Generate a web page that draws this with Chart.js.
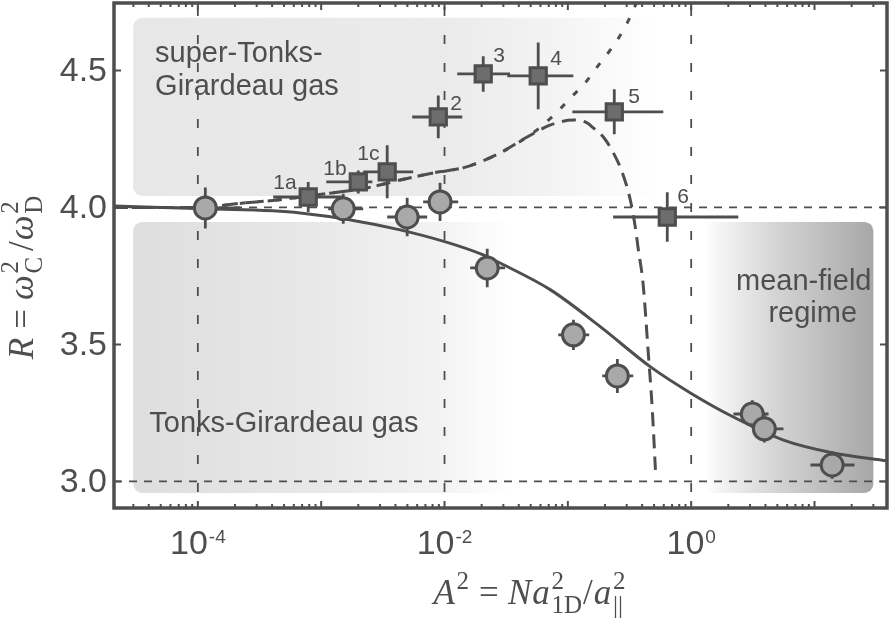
<!DOCTYPE html>
<html>
<head>
<meta charset="utf-8">
<script src="https://cdn.jsdelivr.net/npm/chart.js@4.4.1/dist/chart.umd.min.js"></script>
<style>
  html, body { margin: 0; padding: 0; background: #fff; overflow: hidden; }
  #wrap { width: 890px; height: 618px; }
</style>
</head>
<body>
<div id="wrap"><canvas id="chart"></canvas></div>
<script>
// axis ranges and ticks
const xMin = 2.09e-5, xMax = 38.7;
const yMin = 2.903, yMax = 4.746;
const yTicks = [3.0, 3.5, 4.0, 4.5];
const yTickLabels = ['3.0', '3.5', '4.0', '4.5'];
const xMajorTicks = [1e-4, 1e-2, 1];
const xTickExponents = ['-4', '-2', '0'];
const refX = [1e-4, 1e-2, 1];
const refY = [3.0, 4.0];

// super-Tonks-Girardeau measurements (squares)
const sqLabels = ['1a', '1b', '1c', '2', '3', '4', '5', '6'];
const sqX   = [7.85e-4, 2.0e-3, 3.43e-3, 8.9e-3, 0.0206, 0.0575, 0.238, 0.64];
const sqY   = [4.038, 4.093, 4.130, 4.330, 4.487, 4.480, 4.349, 3.965];
const sqXLo = [4.08e-4, 1.10e-3, 2.19e-3, 5.47e-3, 0.01268, 0.0323, 0.1087, 0.233];
const sqXHi = [1.51e-3, 2.6e-3, 5.57e-3, 0.01393, 0.0340, 0.1107, 0.594, 2.41];
const sqYErr = [0.055, 0.042, 0.097, 0.078, 0.065, 0.122, 0.082, 0.09];

// Tonks-Girardeau / mean-field measurements (circles)
const ciX   = [1.15e-4, 1.51e-3, 4.98e-3, 9.2e-3, 0.0222, 0.111, 0.252, 3.13, 3.92, 13.9];
const ciY   = [3.998, 3.995, 3.965, 4.020, 3.779, 3.535, 3.385, 3.246, 3.192, 3.060];
const ciXLo = [8.66e-5, 1.14e-3, 3.43e-3, 6.71e-3, 0.01615, 0.0836, 0.190, 2.20, 3.14, 9.27];
const ciXHi = [2.20e-4, 2.19e-3, 7.23e-3, 0.01291, 0.0310, 0.149, 0.339, 4.24, 5.60, 21.1];
const ciYErr = [0.075, 0.055, 0.07, 0.07, 0.07, 0.055, 0.062, 0.05, 0.05, 0.05];

// theory curves
const tgX = [2.09e-5, 1.15e-4, 6.76e-4, 4.37e-3, 0.0206, 0.0282, 0.0724, 0.184, 0.468, 0.986, 2.20, 5.60, 14.2, 38.9];
const tgY = [4.005, 3.995, 3.980, 3.918, 3.827, 3.797, 3.699, 3.564, 3.418, 3.323, 3.235, 3.151, 3.104, 3.075];

const stgX = [2.09e-5, 1.0e-4, 2.34e-4, 4.37e-4, 9.33e-4, 2.34e-3, 4.37e-3, 8.13e-3, 0.0151, 0.0282, 0.0468,
              0.0724, 0.111, 0.141, 0.161, 0.194, 0.234, 0.277, 0.321, 0.352, 0.373, 0.407, 0.447, 0.484, 0.513];
const stgY = [4.0, 4.0, 4.016, 4.027, 4.046, 4.071, 4.100, 4.126, 4.148, 4.199, 4.257,
              4.301, 4.319, 4.310, 4.290, 4.257, 4.199, 4.126, 4.027, 3.929, 3.845, 3.724, 3.480, 3.261, 3.042];

const varX = [2.09e-5, 1.0e-4, 2.34e-4, 4.37e-4, 9.33e-4, 2.34e-3, 4.37e-3, 8.13e-3, 0.0151, 0.0282, 0.0468,
              0.0598, 0.0822, 0.105, 0.138, 0.173, 0.221, 0.277, 0.320, 0.357];
const varY = [4.0, 4.0, 4.016, 4.027, 4.046, 4.071, 4.100, 4.126, 4.148, 4.199, 4.257,
              4.293, 4.349, 4.400, 4.454, 4.513, 4.575, 4.641, 4.695, 4.743];

// shaded regimes (data coordinates)
const regions = [
  { x0: 2.99e-5, x1: 0.512, y0: 4.042, y1: 4.692, side: 'left',
    stops: [[0, '#e7e7e7'], [0.6, '#ebebeb'], [0.8, '#f3f3f3'], [1, '#ffffff']] },
  { x0: 2.99e-5, x1: 0.034, y0: 2.958, y1: 3.947, side: 'left',
    stops: [[0, '#dedede'], [0.45, '#e7e7e7'], [0.82, '#f3f3f3'], [1, '#ffffff']] },
  { x0: 1.30, x1: 30, y0: 2.958, y1: 3.947, side: 'right',
    stops: [[0, '#ffffff'], [0.1, '#f3f3f3'], [0.4, '#d6d6d6'], [1, '#a7a7a7']] }
];
const regionTexts = [
  { text: 'super-Tonks-', x: 4.5e-5, y: 4.531, align: 'left' },
  { text: 'Girardeau gas', x: 4.5e-5, y: 4.411, align: 'left' },
  { text: 'Tonks-Girardeau gas', x: 4.04e-5, y: 3.181, align: 'left' },
  { text: 'mean-field', x: 8.18, y: 3.699, align: 'center' },
  { text: 'regime', x: 9.68, y: 3.582, align: 'center' }
];
// label offsets from each square, px
const sqLabelDX = [-35, -35, -30, 12, 10, 12, 14, 10];
const sqLabelDY = [-8, -7, -12, -7, -12, -11, -9, -14];

const ink = '#4e4e4e';
const sans = '"Liberation Sans", Arial, sans-serif';
const serif = '"Liberation Serif", "Times New Roman", serif';

const xTickValues = [];
for (let e = -5; e <= 1; e++) {
  for (let m = 1; m <= 9; m++) {
    const v = m * Math.pow(10, e);
    if (v >= xMin && v <= xMax) xTickValues.push(v);
  }
}

function pts(xs, ys) {
  return xs.map((x, i) => ({ x: x, y: ys[i] }));
}

function roundedRect(ctx, l, t, r, b, rad, side) {
  const rl = side === 'left' ? rad : 0;
  const rr = side === 'right' ? rad : 0;
  ctx.beginPath();
  ctx.moveTo(l + rl, t);
  ctx.lineTo(r - rr, t);
  if (rr) ctx.arcTo(r, t, r, t + rr, rr);
  ctx.lineTo(r, b - rr);
  if (rr) ctx.arcTo(r, b, r - rr, b, rr);
  ctx.lineTo(l + rl, b);
  if (rl) ctx.arcTo(l, b, l, b - rl, rl);
  ctx.lineTo(l, t + rl);
  if (rl) ctx.arcTo(l, t, l + rl, t, rl);
  ctx.closePath();
}

// simple math-text layout: runs of text plus stacked super/subscripts
function mathLayout(ctx, parts, size) {
  let w = 0;
  const out = [];
  for (const p of parts) {
    if (p.sup !== undefined || p.sub !== undefined) {
      ctx.font = Math.round(size * 0.7) + 'px ' + serif;
      const ws = Math.max(ctx.measureText(p.sup || '').width, ctx.measureText(p.sub || '').width);
      out.push({ p: p, x: w + 1 });
      w += ws + 2 + (p.gap || 0) * size;
    } else {
      ctx.font = (p.it ? 'italic ' : '') + size + 'px ' + serif;
      out.push({ p: p, x: w + (p.pre || 0) * size });
      w += ctx.measureText(p.t).width + ((p.pre || 0) + (p.gap || 0)) * size;
    }
  }
  return { w: w, items: out };
}

function drawMath(ctx, parts, size, cx, baseline) {
  const lay = mathLayout(ctx, parts, size);
  const x0 = cx - lay.w / 2;
  ctx.textBaseline = 'alphabetic';
  ctx.textAlign = 'left';
  for (const it of lay.items) {
    const p = it.p;
    if (p.sup !== undefined || p.sub !== undefined) {
      ctx.font = Math.round(size * 0.7) + 'px ' + serif;
      if (p.sup) ctx.fillText(p.sup, x0 + it.x, baseline - size * 0.42);
      if (p.sub) ctx.fillText(p.sub, x0 + it.x, baseline + size * 0.25);
    } else {
      ctx.font = (p.it ? 'italic ' : '') + size + 'px ' + serif;
      ctx.fillText(p.t, x0 + it.x, baseline);
    }
  }
}

function errorBars(ctx, sx, sy, xs, ys, lo, hi, dy) {
  for (let i = 0; i < xs.length; i++) {
    const px = sx.getPixelForValue(xs[i]);
    const py = sy.getPixelForValue(ys[i]);
    ctx.beginPath();
    ctx.moveTo(sx.getPixelForValue(lo[i]), py);
    ctx.lineTo(sx.getPixelForValue(hi[i]), py);
    ctx.moveTo(px, sy.getPixelForValue(ys[i] - dy[i]));
    ctx.lineTo(px, sy.getPixelForValue(ys[i] + dy[i]));
    ctx.stroke();
  }
}

const backdrop = {
  id: 'backdrop',
  beforeDatasetsDraw(chart) {
    const { ctx, chartArea: a, scales: { x, y } } = chart;
    ctx.save();
    ctx.beginPath();
    ctx.rect(a.left, a.top, a.width, a.height);
    ctx.clip();

    regions.forEach(r => {
      const l = x.getPixelForValue(r.x0), rr = x.getPixelForValue(r.x1);
      const t = y.getPixelForValue(r.y1), b = y.getPixelForValue(r.y0);
      const g = ctx.createLinearGradient(l, 0, rr, 0);
      r.stops.forEach(s => g.addColorStop(s[0], s[1]));
      ctx.fillStyle = g;
      roundedRect(ctx, l, t, rr, b, 9, r.side);
      ctx.fill();
    });

    ctx.fillStyle = ink;
    ctx.font = '29px ' + sans;
    ctx.textBaseline = 'alphabetic';
    regionTexts.forEach(rt => {
      ctx.textAlign = rt.align;
      ctx.fillText(rt.text, x.getPixelForValue(rt.x), y.getPixelForValue(rt.y));
    });

    // dashed reference lines
    ctx.strokeStyle = ink;
    ctx.lineWidth = 1.8;
    ctx.setLineDash([8, 7]);
    refY.forEach(v => {
      const py = y.getPixelForValue(v);
      ctx.beginPath();
      ctx.moveTo(a.left, py);
      ctx.lineTo(a.right, py);
      ctx.stroke();
    });
    ctx.setLineDash([9, 19]);
    ctx.lineDashOffset = -4;
    refX.forEach(v => {
      const px = x.getPixelForValue(v);
      ctx.beginPath();
      ctx.moveTo(px, a.top);
      ctx.lineTo(px, a.bottom);
      ctx.stroke();
    });
    ctx.setLineDash([]);

    ctx.lineWidth = 2.8;
    errorBars(ctx, x, y, ciX, ciY, ciXLo, ciXHi, ciYErr);
    errorBars(ctx, x, y, sqX, sqY, sqXLo, sqXHi, sqYErr);
    ctx.restore();
  },
  afterDatasetsDraw(chart) {
    const { ctx, scales: { x, y } } = chart;
    ctx.save();
    ctx.fillStyle = ink;
    ctx.font = '21px ' + sans;
    ctx.textAlign = 'left';
    ctx.textBaseline = 'alphabetic';
    sqLabels.forEach((s, i) => {
      ctx.fillText(s, x.getPixelForValue(sqX[i]) + sqLabelDX[i], y.getPixelForValue(sqY[i]) + sqLabelDY[i]);
    });
    ctx.restore();
  }
};

const frame = {
  id: 'frame',
  afterDraw(chart) {
    const { ctx, chartArea: a, scales: { x, y } } = chart;
    ctx.save();
    ctx.strokeStyle = ink;
    ctx.lineWidth = 2;
    ctx.beginPath();
    x.ticks.forEach(t => {
      const px = x.getPixelForValue(t.value);
      const lg = Math.log10(t.value);
      const len = Math.abs(lg - Math.round(lg)) < 1e-6 ? 7 : 4;
      ctx.moveTo(px, a.bottom); ctx.lineTo(px, a.bottom - len);
      ctx.moveTo(px, a.top); ctx.lineTo(px, a.top + len);
    });
    y.ticks.forEach(t => {
      const py = y.getPixelForValue(t.value);
      ctx.moveTo(a.left, py); ctx.lineTo(a.left + 7, py);
      ctx.moveTo(a.right, py); ctx.lineTo(a.right - 7, py);
    });
    ctx.stroke();
    ctx.lineWidth = 3.5;
    ctx.strokeRect(a.left, a.top, a.width, a.height);

    ctx.fillStyle = ink;
    // y tick labels
    ctx.font = '34px ' + sans;
    ctx.textAlign = 'right';
    ctx.textBaseline = 'alphabetic';
    yTicks.forEach((v, i) => {
      ctx.fillText(yTickLabels[i], a.left - 7, y.getPixelForValue(v) + 11);
    });

    // x tick labels with superscript exponents
    ctx.textAlign = 'left';
    xMajorTicks.forEach((v, i) => {
      const px = x.getPixelForValue(v);
      ctx.font = '34px ' + sans;
      const wb = ctx.measureText('10').width;
      ctx.font = '19px ' + sans;
      const we = ctx.measureText(xTickExponents[i]).width;
      const x0 = px - (wb + we + 1) / 2;
      ctx.font = '34px ' + sans;
      ctx.fillText('10', x0, 554);
      ctx.font = '19px ' + sans;
      ctx.fillText(xTickExponents[i], x0 + wb + 1, 543);
    });

    // axis titles
    drawMath(ctx, [
      { t: 'A', it: true, gap: 0.02 }, { sup: '2' }, { t: '=', pre: 0.26, gap: 0.26 },
      { t: 'N', it: true, gap: 0.03 }, { t: 'a', it: true, gap: 0.02 }, { sup: '2', sub: '1D' },
      { t: '/', gap: 0.03 }, { t: 'a', it: true, gap: 0.02 }, { sup: '2', sub: '||' }
    ], 35, 530, 604);

    ctx.translate(33, 277);
    ctx.rotate(-Math.PI / 2);
    drawMath(ctx, [
      { t: 'R', it: true }, { t: '=', pre: 0.26, gap: 0.26 }, { t: 'ω', it: true, gap: 0.02 },
      { sup: '2', sub: 'C', gap: 0.14 }, { t: '/', gap: 0.03 }, { t: 'ω', it: true, gap: 0.02 },
      { sup: '2', sub: 'D' }
    ], 35, 0, 0);
    ctx.restore();
  }
};

new Chart(document.getElementById('chart'), {
  type: 'scatter',
  data: {
    datasets: [
      { label: 'super-Tonks-Girardeau', data: pts(sqX, sqY), pointStyle: 'rect', pointRadius: 11.5,
        backgroundColor: '#6d6d6d', borderColor: ink, borderWidth: 3 },
      { label: 'Tonks-Girardeau', data: pts(ciX, ciY), pointStyle: 'circle', pointRadius: 11,
        backgroundColor: '#a9a9a9', borderColor: ink, borderWidth: 3 },
      { type: 'line', label: 'TG theory', data: pts(tgX, tgY), borderColor: ink, borderWidth: 3,
        pointRadius: 0, fill: false, cubicInterpolationMode: 'monotone' },
      { type: 'line', label: 'sTG theory', data: pts(stgX, stgY), borderColor: ink, borderWidth: 3,
        borderDash: [14, 8], pointRadius: 0, fill: false, cubicInterpolationMode: 'monotone' },
      { type: 'line', label: 'sTG estimate', data: pts(varX, varY), borderColor: ink, borderWidth: 3,
        borderDash: [6, 12], pointRadius: 0, fill: false, cubicInterpolationMode: 'monotone' }
    ]
  },
  options: {
    responsive: true,
    maintainAspectRatio: false,
    animation: false,
    layout: { autoPadding: false, padding: { top: 3, right: 3, left: 0, bottom: 0 } },
    plugins: { legend: { display: false }, tooltip: { enabled: false } },
    scales: {
      x: {
        type: 'logarithmic', min: xMin, max: xMax,
        grid: { display: false, drawTicks: false }, border: { display: false },
        ticks: { display: false },
        afterBuildTicks: s => { s.ticks = xTickValues.map(v => ({ value: v })); },
        afterFit: s => { s.height = 110; }
      },
      y: {
        type: 'linear', min: yMin, max: yMax,
        grid: { display: false, drawTicks: false }, border: { display: false },
        ticks: { display: false },
        afterBuildTicks: s => { s.ticks = yTicks.map(v => ({ value: v })); },
        afterFit: s => { s.width = 114; }
      }
    }
  },
  plugins: [backdrop, frame]
});
</script>
</body>
</html>
